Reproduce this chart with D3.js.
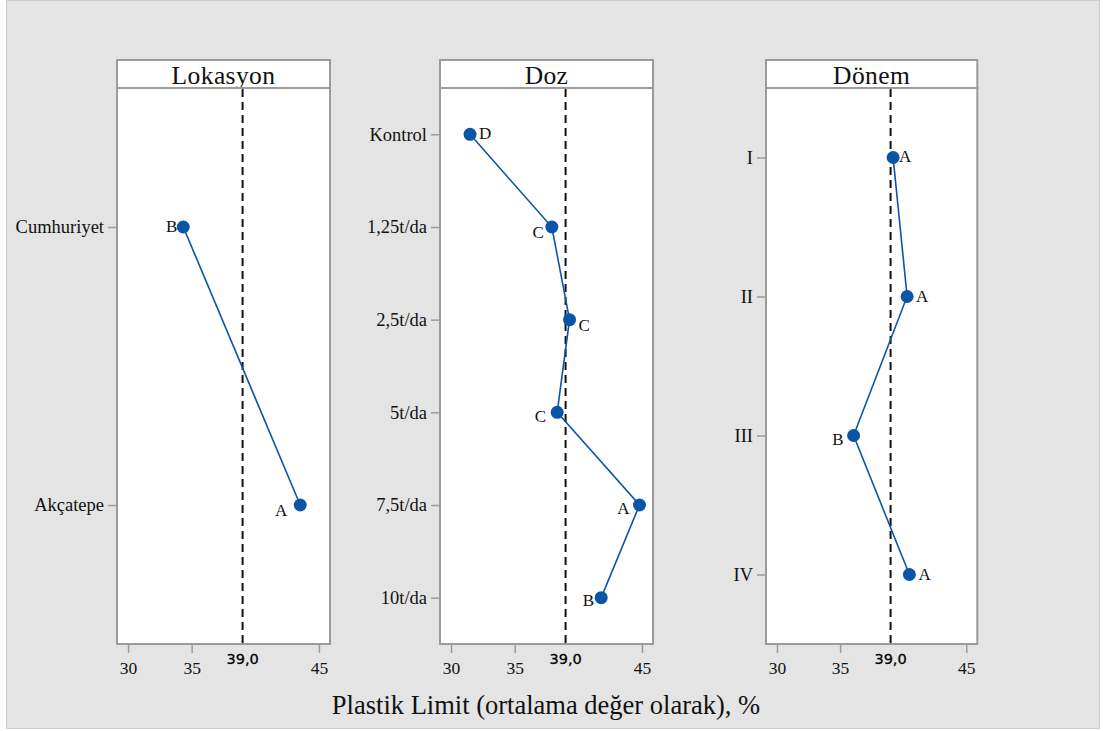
<!DOCTYPE html>
<html>
<head>
<meta charset="utf-8">
<script src="https://cdn.jsdelivr.net/npm/d3@7"></script>
<style>
  html, body { margin: 0; padding: 0; background: #ffffff; }
  svg { display: block; }
</style>
</head>
<body>
<svg id="chart" width="1103" height="731"></svg>
<script>
// ---------- DATA ----------
const panelTitles = ["Lokasyon", "Doz", "Dönem"];

const lokasyonCategories = ["Cumhuriyet", "Akçatepe"];
const lokasyonValues = [34.34, 43.53];
const lokasyonGroups = ["B", "A"];

const dozCategories = ["Kontrol", "1,25t/da", "2,5t/da", "5t/da", "7,5t/da", "10t/da"];
const dozValues = [31.49, 37.92, 39.31, 38.34, 44.81, 41.80];
const dozGroups = ["D", "C", "C", "C", "A", "B"];

const donemCategories = ["I", "II", "III", "IV"];
const donemValues = [39.20, 40.31, 36.07, 40.49];
const donemGroups = ["A", "A", "B", "A"];

const xTickValues = [30, 35, 45];
const referenceValue = 39.0;
const referenceLabel = "39,0";
const xAxisTitle = "Plastik Limit (ortalama değer olarak), %";

// ---------- LAYOUT / STYLE ----------
const labelPlacement = [
  [["end", -6, 5], ["end", -13, 11]],
  [["start", 9, 5], ["end", -8, 11], ["start", 9, 11], ["end", -11, 10], ["end", -10, 9], ["end", -7, 8]],
  [["start", 6, 4], ["start", 9, 5], ["end", -10, 9], ["start", 9, 5]]
];
const panels = [
  { title: panelTitles[0], cats: lokasyonCategories, vals: lokasyonValues, groups: lokasyonGroups, x0: 117, w: 213 },
  { title: panelTitles[1], cats: dozCategories, vals: dozValues, groups: dozGroups, x0: 440, w: 213 },
  { title: panelTitles[2], cats: donemCategories, vals: donemValues, groups: donemGroups, x0: 766, w: 211.3 }
];
const headerTop = 60, plotTop = 88, plotBottom = 644;
const frameColor = "#9b9b9b";
const blue = "#0b55a8";
const serif = "'Liberation Serif', 'Times New Roman', serif";

const svg = d3.select("#chart");

// background
svg.append("rect").attr("x", 6.5).attr("y", 0.5).attr("width", 1093).attr("height", 728)
  .attr("fill", "#e4e4e4").attr("stroke", "#cdcdcd").attr("stroke-width", 1);

panels.forEach((p, i) => {
  const x = d3.scaleLinear().domain([29.13, 45.87]).range([p.x0, p.x0 + p.w]);
  const y = d3.scalePoint().domain(p.cats).range([plotTop, plotBottom]).padding(0.5);
  const g = svg.append("g");

  // header
  g.append("rect").attr("x", p.x0).attr("y", headerTop).attr("width", p.w).attr("height", plotTop - headerTop)
    .attr("fill", "#fff").attr("stroke", frameColor).attr("stroke-width", 2);
  g.append("text").attr("x", p.x0 + p.w / 2).attr("y", plotTop - 4)
    .attr("text-anchor", "middle").attr("font-family", serif).attr("font-size", 25.5)
    .attr("letter-spacing", 0.4).attr("fill", "#111").text(p.title);

  // plot area
  g.append("rect").attr("x", p.x0).attr("y", plotTop).attr("width", p.w).attr("height", plotBottom - plotTop)
    .attr("fill", "#fff").attr("stroke", frameColor).attr("stroke-width", 2);

  // y axis
  const yAxis = d3.axisLeft(y).tickSize(8).tickPadding(4);
  const ya = g.append("g").attr("transform", `translate(${p.x0 - 1},0)`).call(yAxis);
  ya.select(".domain").remove();
  ya.selectAll(".tick line").attr("stroke", frameColor).attr("stroke-width", 1.5);
  ya.selectAll(".tick text").attr("font-family", serif).attr("font-size", 18.5).attr("fill", "#111");

  // x axis
  const xAxis = d3.axisBottom(x).tickValues(xTickValues).tickSize(8).tickPadding(9).tickFormat(d3.format("d"));
  const xa = g.append("g").attr("transform", `translate(0,${plotBottom + 1})`).call(xAxis);
  xa.select(".domain").remove();
  xa.selectAll(".tick line").attr("stroke", frameColor).attr("stroke-width", 1.5);
  xa.selectAll(".tick text").attr("font-family", serif).attr("font-size", 17.5).attr("fill", "#111");
  // reference tick label
  g.append("text").attr("x", x(referenceValue)).attr("y", plotBottom + 20)
    .attr("text-anchor", "middle").attr("font-family", "'DejaVu Sans', sans-serif")
    .attr("font-size", 14.5).attr("fill", "#000").attr("stroke", "#000").attr("stroke-width", 0.3)
    .text(referenceLabel);

  // reference dashed line
  g.append("line").attr("x1", x(referenceValue)).attr("x2", x(referenceValue))
    .attr("y1", plotTop + 1).attr("y2", plotBottom)
    .attr("stroke", "#111").attr("stroke-width", 2).attr("stroke-dasharray", "8,5");

  // line
  const pts = p.cats.map((c, k) => ({ c, v: p.vals[k], grp: p.groups[k], k }));
  g.append("path").datum(pts)
    .attr("d", d3.line().x(d => x(d.v)).y(d => y(d.c)))
    .attr("fill", "none").attr("stroke", blue).attr("stroke-width", 1.6);
  g.selectAll("circle.pt").data(pts).join("circle")
    .attr("cx", d => x(d.v)).attr("cy", d => y(d.c)).attr("r", 6.5).attr("fill", blue);
  g.selectAll("text.grp").data(pts).join("text")
    .attr("x", d => x(d.v) + labelPlacement[i][d.k][1])
    .attr("y", d => y(d.c) + labelPlacement[i][d.k][2])
    .attr("text-anchor", d => labelPlacement[i][d.k][0])
    .attr("font-family", serif).attr("font-size", 17).attr("fill", "#111")
    .text(d => d.grp);
});

// x axis title
svg.append("text").attr("x", 546).attr("y", 714).attr("text-anchor", "middle")
  .attr("font-family", serif).attr("font-size", 26.5).attr("fill", "#111").text(xAxisTitle);
</script>
</body>
</html>
